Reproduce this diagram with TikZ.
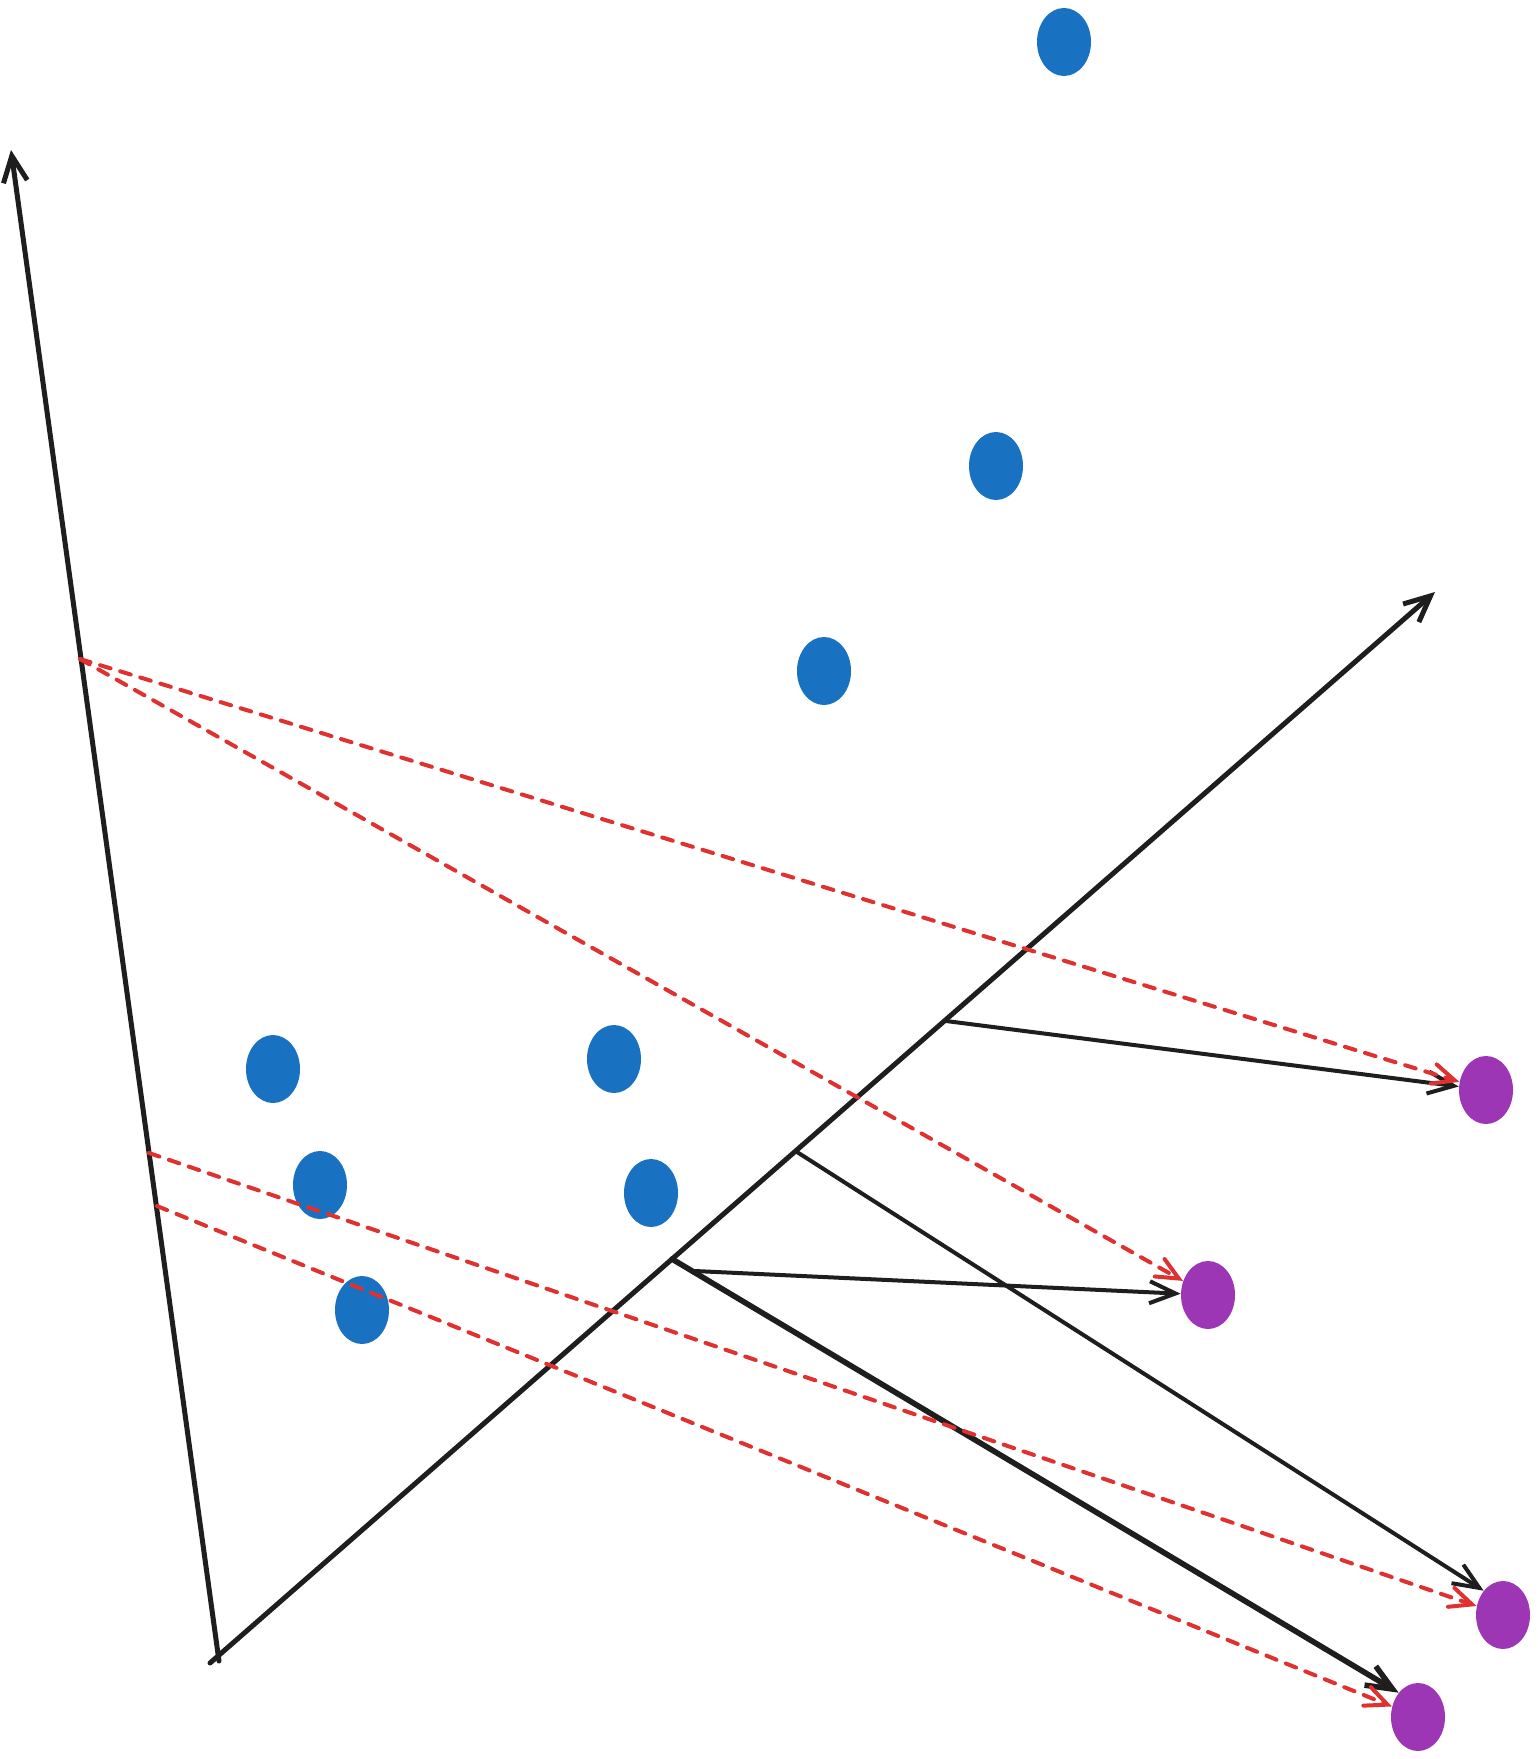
\documentclass[tikz,border=0pt]{standalone}
\usepackage{tikz}
\usetikzlibrary{shapes.geometric,arrows.meta}
\usepackage{xcolor}
\definecolor{dotblue}{HTML}{1971C2}
\definecolor{dotpurple}{HTML}{9C36B5}
\definecolor{projred}{HTML}{E03131}
\definecolor{ink}{HTML}{1E1E1E}

\begin{document}
\begin{tikzpicture}[
    x=0.5pt, y=-0.5pt,
    sample/.style={ellipse, fill=dotblue, minimum width=27pt, minimum height=34pt, inner sep=0pt},
    image/.style={ellipse, fill=dotpurple, minimum width=27pt, minimum height=34pt, inner sep=0pt},
    axis/.style={draw=ink, line width=2.5pt, line cap=round, line join=round,
                 -{Straight Barb[length=13pt, width=12pt]}},
    arr/.style={draw=ink, line width=2pt, line cap=round, line join=round,
                -{Straight Barb[length=13pt, width=11pt]}},
    dasharr/.style={draw=projred, line width=2pt, line cap=round,
                    dash pattern=on 5.5pt off 5pt,
                    -{Straight Barb[length=11pt, width=10pt, line cap=round]}}
]
\useasboundingbox (0,0) rectangle (1537,1759);

% --- axes ---
\coordinate (o1) at (219,1661);
\coordinate (o2) at (210,1663);
\coordinate (ytip) at (11,150);
\coordinate (xtip) at (1435,592);
\draw[axis] (o1) -- (ytip);
\draw[axis] (o2) -- (xtip);

% --- samples ---
\node[sample] (s1) at (1064,42) {};
\node[sample] (s2) at (996,466) {};
\node[sample] (s3) at (824,671) {};
\node[sample] (s4) at (273,1069) {};
\node[sample] (s5) at (614,1059) {};
\node[sample] (s6) at (320,1185) {};
\node[sample] (s7) at (651,1193) {};
\node[sample] (s8) at (362,1310) {};

% --- projected points ---
\node[image] (p1) at (1486,1090) {};
\node[image] (p2) at (1208,1295) {};
\node[image] (p3) at (1503,1615) {};
\node[image] (p4) at (1418,1717) {};

% feet on the axes
\coordinate (ya) at (80,659);
\coordinate (yb) at (149,1153);
\coordinate (yc) at (157,1206);
\coordinate (xa) at (946,1021);
\coordinate (xb) at (797,1152);
\coordinate (xc) at (672,1259);
\coordinate (xd) at (695,1271);

% arrows
\draw[arr] (xa) -- (p1);
\draw[arr] (xd) -- (p2);
\draw[arr] (xb) -- (p3.north west);
\draw[arr, line width=2.8pt] (xc) -- (p4.north west);
\draw[dasharr] (ya) -- (p1);
\draw[dasharr] (ya) -- (p2);
\draw[dasharr] (yb) -- (p3);
\draw[dasharr] (yc) -- (p4);

\end{tikzpicture}
\end{document}
